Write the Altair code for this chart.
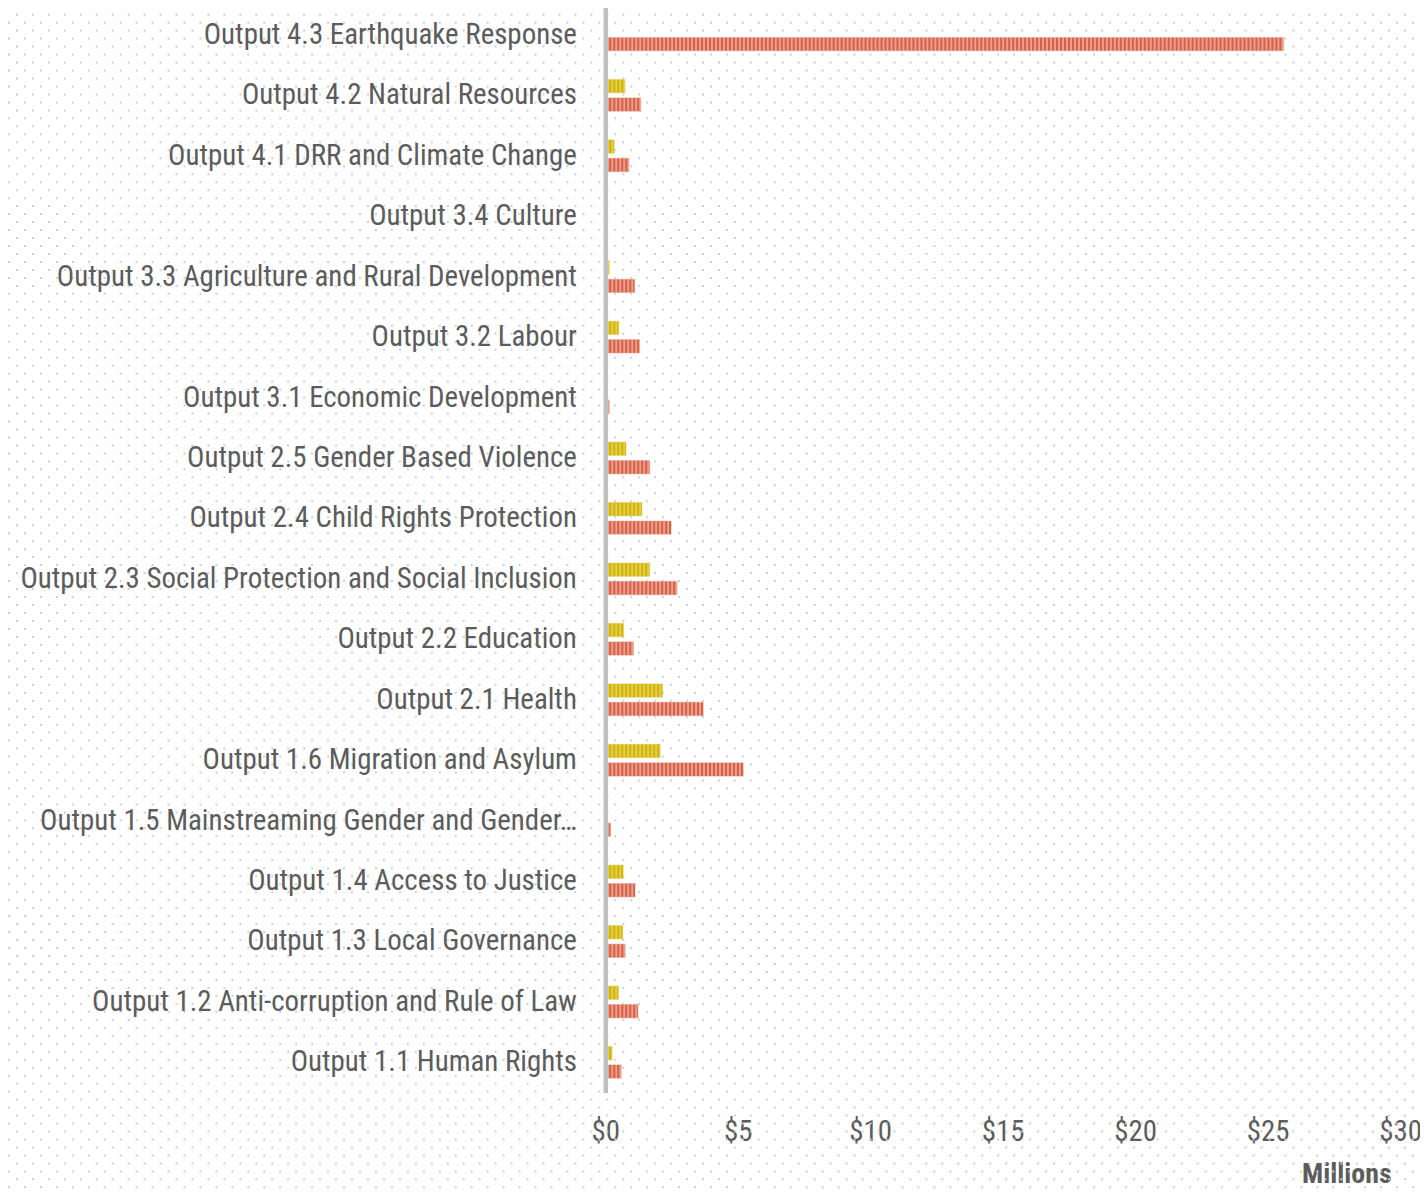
import altair as alt
import pandas as pd

categories = [
    "Output 4.3 Earthquake Response",
    "Output 4.2 Natural Resources",
    "Output 4.1 DRR and Climate Change",
    "Output 3.4 Culture",
    "Output 3.3 Agriculture and Rural Development",
    "Output 3.2 Labour",
    "Output 3.1 Economic Development",
    "Output 2.5 Gender Based Violence",
    "Output 2.4 Child Rights Protection",
    "Output 2.3 Social Protection and Social Inclusion",
    "Output 2.2 Education",
    "Output 2.1 Health",
    "Output 1.6 Migration and Asylum",
    "Output 1.5 Mainstreaming Gender and Gender Equality",
    "Output 1.4 Access to Justice",
    "Output 1.3 Local Governance",
    "Output 1.2 Anti-corruption and Rule of Law",
    "Output 1.1 Human Rights",
]
long_label = "Output 1.5 Mainstreaming Gender and Gender Equality"
shown_label = "Output 1.5 Mainstreaming Gender and Gender\u2026"
series_names = ["Expenditure", "Budget"]
expenditure = [0, 0.74, 0.33, 0, 0.15, 0.5, 0, 0.78, 1.38, 1.67, 0.68, 2.15, 2.07, 0, 0.67, 0.65, 0.49, 0.25]
budget = [25.6, 1.34, 0.89, 0, 1.1, 1.28, 0.15, 1.67, 2.48, 2.71, 1.06, 3.69, 5.2, 0.19, 1.12, 0.75, 1.23, 0.6]
x_ticks = [0, 5, 10, 15, 20, 25, 30]

rows = []
for c, e, b in zip(categories, expenditure, budget):
    if e > 0:
        rows.append({"category": c, "series": series_names[0], "value": e})
    if b > 0:
        rows.append({"category": c, "series": series_names[1], "value": b})
df = pd.DataFrame(rows)

FONT = "Liberation Sans Narrow, Arial Narrow, Roboto Condensed, DejaVu Sans Condensed, sans-serif"
GREY = "#5c5c5c"

light_scale = alt.Scale(domain=series_names, range=["#e2cd55", "#e9a08e"])
dark_scale = alt.Scale(domain=series_names, range=["#d2b500", "#d75f45"])

y_scale = alt.Scale(domain=categories, paddingInner=0.39, paddingOuter=0.195)
yoff_scale = alt.Scale(domain=series_names, paddingInner=0.28, paddingOuter=0.14)

y_axis = alt.Axis(
    title=None, labelFont=FONT, labelFontSize=29, labelColor=GREY,
    labelPadding=29, labelLimit=600, ticks=False,
    labelExpr=f"datum.label == '{long_label}' ? '{shown_label}' : datum.label",
    domainColor="#bfbfbf", domainWidth=4.5, zindex=1,
)
x_axis = alt.Axis(
    values=x_ticks, format="$.0f", grid=False, domain=False, ticks=False,
    labelFont=FONT, labelFontSize=29, labelColor=GREY, labelPadding=25,
    labelFlush=False, labelBound=False,
    title="Millions", titleFont=FONT, titleFontSize=28, titleFontWeight="bold",
    titleColor=GREY, titleAnchor="end", titlePadding=14, titleX=788, titleAlign="right",
)

base = alt.Chart(df).transform_calculate(zero="0")

bars = base.mark_bar(cornerRadius=0, strokeWidth=1.2, strokeOpacity=0.5).encode(
    y=alt.Y("category:N", sort=categories, scale=y_scale, axis=y_axis),
    yOffset=alt.YOffset("series:N", sort=series_names, scale=yoff_scale),
    x=alt.X("value:Q", scale=alt.Scale(domain=[0, 30], nice=False), axis=x_axis),
    x2=alt.X2("zero:Q"),
    color=alt.Color("series:N", scale=light_scale, legend=None),
    stroke=alt.Stroke("series:N", scale=light_scale, legend=None),
)

stripes = base.mark_rule(strokeWidth=13, strokeDash=[2, 2], strokeCap="butt").encode(
    y=alt.Y("category:N", sort=categories, scale=y_scale, axis=None),
    yOffset=alt.YOffset("series:N", sort=series_names, scale=yoff_scale),
    x=alt.X("zero:Q"),
    x2=alt.X2("value:Q"),
    color=alt.Color("series:N", scale=dark_scale, legend=None),
)

dot_rows = alt.Chart(alt.sequence(0, 149, as_="k")).transform_calculate(
    py="datum.k * 8 + 2", odd="datum.k % 2"
)
dots_even = dot_rows.transform_filter("datum.odd == 0").mark_rule(
    strokeWidth=2, strokeDash=[2, 14], color="#c5d0da", strokeCap="butt"
).encode(
    y=alt.Y("py:Q", scale=None, axis=None),
    x=alt.value(-599), x2=alt.value(821),
)
dots_odd = dot_rows.transform_filter("datum.odd == 1").mark_rule(
    strokeWidth=2, strokeDash=[2, 14], color="#c5d0da", strokeCap="butt"
).encode(
    y=alt.Y("py:Q", scale=None, axis=None),
    x=alt.value(-607), x2=alt.value(821),
)

chart = alt.layer(dots_even, dots_odd, bars, stripes).resolve_scale(
    y="independent", yOffset="independent", color="independent", stroke="independent"
).properties(
    width=797, height=1091,
    autosize="none",
    padding={"left": 599, "top": -5, "right": 20, "bottom": 96},
    background="white",
).configure_view(stroke=None)

chart.save("out.html", embed_options={"renderer": "svg", "actions": False})
